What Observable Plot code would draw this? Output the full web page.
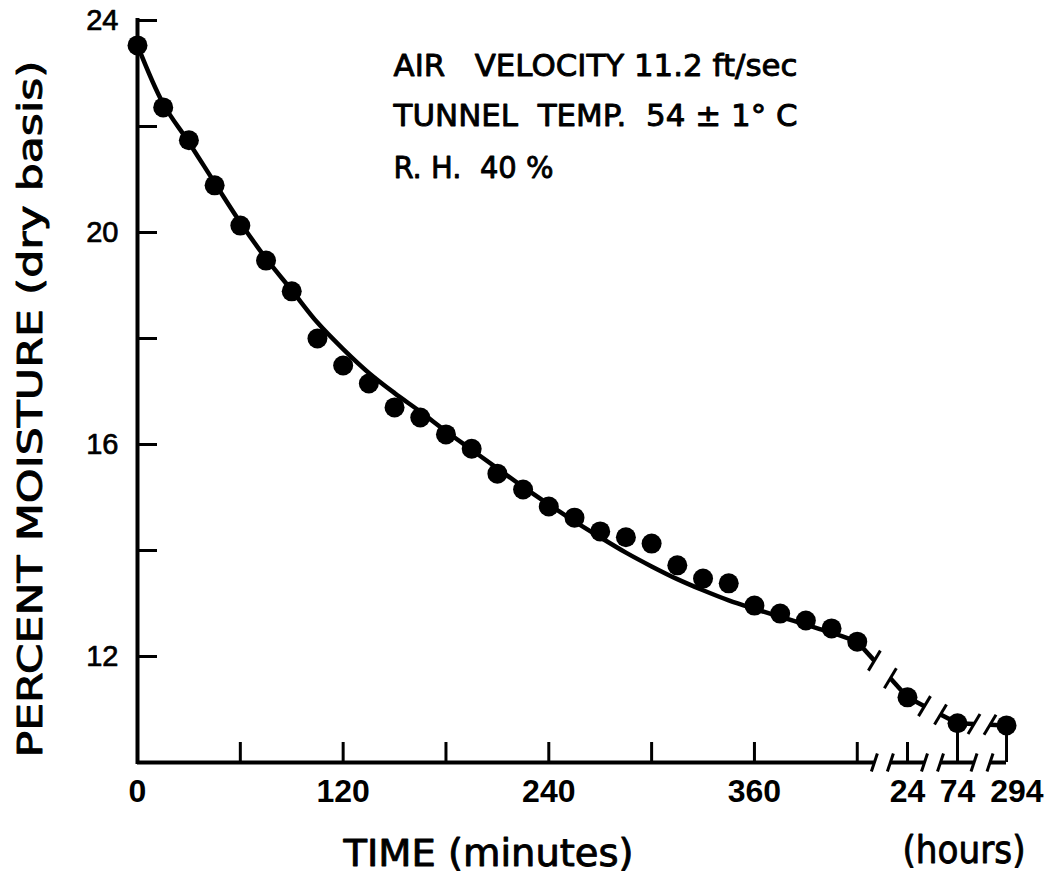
<!DOCTYPE html>
<html>
<head>
<meta charset="utf-8">
<script src="https://cdn.jsdelivr.net/npm/d3@7"></script>
<script src="https://cdn.jsdelivr.net/npm/@observablehq/plot@0.6"></script>
<style>
  html, body { margin: 0; padding: 0; background: #fff; }
  #chart svg { display: block; }
</style>
</head>
<body>
<div id="chart"></div>
<script>
// ---------------- data ----------------
const timeMinutes = [0, 15, 30, 45, 60, 75, 90, 105, 120, 135, 150, 165, 180, 195, 210,
                     225, 240, 255, 270, 285, 300, 315, 330, 345, 360, 375, 390, 405, 420];
const moistureMinutes = [23.53, 22.36, 21.74, 20.89, 20.13, 19.47, 18.89, 18.00, 17.49, 17.15,
                         16.70, 16.51, 16.19, 15.92, 15.45, 15.15, 14.83, 14.62, 14.36, 14.25,
                         14.13, 13.72, 13.47, 13.38, 12.96, 12.81, 12.68, 12.53, 12.28];
const timeHours = [24, 74, 294];
const moistureHours = [11.23, 10.74, 10.70];

// fitted drying curve (minutes section)
const curveMinutes = [0, 15, 30, 45, 60, 75, 90, 105, 120, 135, 150, 165, 180, 195, 210,
                      225, 240, 255, 270, 285, 300, 315, 330, 345, 360, 375, 390, 405, 420];
const curveMoisture = [23.53, 22.43, 21.70, 20.94, 20.19, 19.51, 18.91, 18.30, 17.80, 17.35,
                       16.97, 16.62, 16.25, 15.90, 15.55, 15.20, 14.87, 14.55, 14.25, 13.96,
                       13.70, 13.46, 13.25, 13.06, 12.90, 12.75, 12.60, 12.45, 12.28];

const yTicks = [12, 14, 16, 18, 20, 22, 24];
const yTickLabels = [12, 16, 20, 24];
const xTicksMinutes = [60, 120, 180, 240, 300, 360, 420];
const xTickLabelsMinutes = [0, 120, 240, 360];
const xTickLabelsHours = [24, 74, 294];

const yTitle = "PERCENT MOISTURE (dry basis)";
const xTitleMinutes = "TIME (minutes)";
const xTitleHours = "(hours)";
const notes = ["AIR\u00a0\u00a0\u00a0VELOCITY 11.2 ft/sec", "TUNNEL\u00a0\u00a0TEMP.\u00a0\u00a054 \u00b1 1\u00b0 C", "R.\u00a0H.\u00a0\u00a040\u00a0%"];

// ---------------- layout ----------------
const W = 1045, H = 877, mL = 137, mR = 34, mT = 20, mB = 115;
const X_END = 510, Y_MIN = 10, Y_MAX = 24;
const kx = X_END / (W - mL - mR);            // x units per pixel
const ky = (Y_MAX - Y_MIN) / (H - mT - mB);  // y units per pixel
// broken axis: position of each hour tick in minute-equivalent axis units
const hourSlot = [449.3, 478.5, 507.1];
const gapHalf = 8 * kx;

const pts = timeMinutes.map((t, i) => ({x: t, y: moistureMinutes[i]}));
const hourPts = timeHours.map((h, i) => ({x: hourSlot[i], y: moistureHours[i], h}));
const curve = curveMinutes.map((t, i) => ({x: t, y: curveMoisture[i]}));

// chain from last minute point through the hour points, broken between each
const chain = [{x: timeMinutes[timeMinutes.length - 1], y: curveMoisture[curveMoisture.length - 1]}, ...hourPts];
const lerp = (a, b, x) => a.y + (b.y - a.y) * (x - a.x) / (b.x - a.x);
const gapCenters = [];
const lineSegs = [], lineSlashPts = [];
for (let i = 0; i < chain.length - 1; i++) {
  const A = chain[i], B = chain[i + 1];
  const g = (A.x + B.x) / 2;
  gapCenters.push(g);
  const xa = g - gapHalf, xb = g + gapHalf;
  const ya = lerp(A, B, xa), yb = lerp(A, B, xb);
  lineSegs.push({x1: A.x, y1: A.y, x2: xa, y2: ya}, {x1: xb, y1: yb, x2: B.x, y2: B.y});
  lineSlashPts.push({x: xa, y: ya}, {x: xb, y: yb});
}
const axisStops = [0, ...gapCenters.flatMap(g => [g - gapHalf, g + gapHalf]), hourSlot[hourSlot.length - 1]];
const axisSegs = [];
for (let i = 0; i < axisStops.length; i += 2) axisSegs.push({x1: axisStops[i], x2: axisStops[i + 1]});
const axisSlashPts = gapCenters.flatMap(g => [{x: g - gapHalf, y: Y_MIN}, {x: g + gapHalf, y: Y_MIN}]);
const slash = (p, sx, sy) => ({x1: p.x - sx * kx, y1: p.y - sy * ky, x2: p.x + sx * kx, y2: p.y + sy * ky});

const tickLen = 20;
const hourTicks = hourPts.map(p => ({x: p.x, y2: (p.y - Y_MIN) < 0.9 ? p.y : Y_MIN + tickLen * ky}));

const FONT = "'DejaVu Sans', sans-serif";
const NUMFONT = "'Liberation Sans', Arial, sans-serif";
const heavy = {fill: "black", stroke: "black", strokeWidth: 0.9};

const chart = Plot.plot({
  width: W, height: H,
  marginLeft: mL, marginRight: mR, marginTop: mT, marginBottom: mB,
  x: {domain: [0, X_END], axis: null},
  y: {domain: [Y_MIN, Y_MAX], axis: null},
  style: {background: "white", fontFamily: FONT, color: "black"},
  marks: [
    // y axis line and inward ticks
    Plot.ruleX([0], {y1: Y_MIN, y2: Y_MAX, stroke: "black", strokeWidth: 4, strokeLinecap: "square"}),
    Plot.ruleY(yTicks, {x1: 0, x2: tickLen * kx, y: d => d, stroke: "black", strokeWidth: 3}),
    // broken x axis
    Plot.ruleY(axisSegs, {x1: "x1", x2: "x2", y: () => Y_MIN, stroke: "black", strokeWidth: 4}),
    Plot.link(axisSlashPts.map(p => slash(p, 3, 9)), {x1: "x1", y1: "y1", x2: "x2", y2: "y2", stroke: "black", strokeWidth: 3}),
    Plot.ruleX(xTicksMinutes, {x: d => d, y1: Y_MIN, y2: Y_MIN + tickLen * ky, stroke: "black", strokeWidth: 3}),
    Plot.ruleX(hourTicks, {x: "x", y1: Y_MIN, y2: "y2", stroke: "black", strokeWidth: 3}),
    // tick labels
    Plot.text(yTickLabels, {x: 0, y: d => d, text: d => String(d), textAnchor: "end", dx: -19,
      fontFamily: NUMFONT, fontSize: 29, ...heavy, strokeWidth: 0.7}),
    Plot.text(xTickLabelsMinutes, {x: d => d, y: Y_MIN, text: d => String(d), dy: 29,
      fontFamily: NUMFONT, fontSize: 32, fontWeight: "bold", fill: "black"}),
    Plot.text(xTickLabelsHours, {x: (d, i) => hourSlot[i] + (i === 2 ? 6 : 0), y: Y_MIN, text: d => String(d), dy: 29,
      fontFamily: NUMFONT, fontSize: 32, fontWeight: "bold", fill: "black"}),
    // fitted curve and its broken continuation
    Plot.line(curve, {x: "x", y: "y", curve: "catmull-rom", stroke: "black", strokeWidth: 4.5}),
    Plot.link(lineSegs, {x1: "x1", y1: "y1", x2: "x2", y2: "y2", stroke: "black", strokeWidth: 4.5}),
    Plot.link(lineSlashPts.map(p => slash(p, 6, 10)), {x1: "x1", y1: "y1", x2: "x2", y2: "y2", stroke: "black", strokeWidth: 3}),
    // observations
    Plot.dot(pts, {x: "x", y: "y", r: 10, fill: "black", stroke: "none"}),
    Plot.dot(hourPts, {x: "x", y: "y", r: 10, fill: "black", stroke: "none"}),
    // titles
    Plot.text([yTitle], {frameAnchor: "left", rotate: -90, textAnchor: "start", lineAnchor: "middle",
      dx: 31 - mL, dy: 757 - (mT + (H - mT - mB) / 2), fontSize: 34, ...heavy}),
    Plot.text([xTitleMinutes], {frameAnchor: "bottom-left", textAnchor: "start", lineAnchor: "bottom",
      dx: 343 - mL, dy: 865 - (H - mB), fontSize: 37, ...heavy}),
    Plot.text([xTitleHours], {frameAnchor: "bottom-left", textAnchor: "start", lineAnchor: "bottom",
      dx: 902 - mL, dy: 862 - (H - mB), fontSize: 37, ...heavy}),
    // annotation
    ...notes.map((n, i) => Plot.text([n], {frameAnchor: "top-left", textAnchor: "start", lineAnchor: "bottom",
      dx: 393 - mL, dy: [75, 125, 177][i] - mT, fontSize: 31, ...heavy}))
  ]
});

// fit a few texts to the widths they occupy in the figure
const widths = new Map([
  [yTitle, 697], [xTitleMinutes, 290], [xTitleHours, 123],
  [notes[0], 404], [notes[1], 404], [notes[2], 160]
]);
d3.select(chart).selectAll("text").each(function () {
  const w = widths.get(this.textContent);
  if (w) { this.setAttribute("textLength", w); this.setAttribute("lengthAdjust", "spacingAndGlyphs"); }
});

document.getElementById("chart").appendChild(chart);
</script>
</body>
</html>
